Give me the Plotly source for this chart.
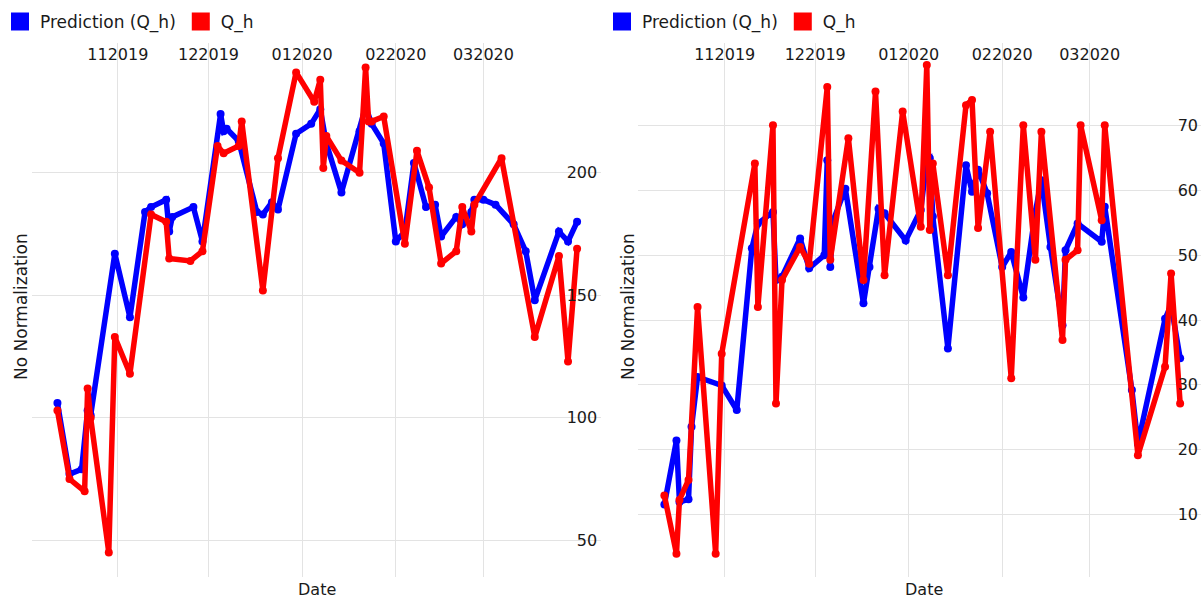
import plotly.graph_objects as go

# ---- Left panel: flow series ----
left_pred_dates = [
    "2019-10-12", "2019-10-16", "2019-10-20", "2019-10-22", "2019-10-23", "2019-10-31",
    "2019-11-05", "2019-11-10", "2019-11-12", "2019-11-17", "2019-11-18", "2019-11-19",
    "2019-11-26", "2019-11-29", "2019-12-05", "2019-12-06", "2019-12-07", "2019-12-11",
    "2019-12-17", "2019-12-19", "2019-12-22", "2019-12-24", "2019-12-30", "2020-01-04",
    "2020-01-07", "2020-01-09", "2020-01-14", "2020-01-20", "2020-01-22", "2020-01-24",
    "2020-01-28", "2020-02-01", "2020-02-04", "2020-02-07", "2020-02-11", "2020-02-14",
    "2020-02-16", "2020-02-21", "2020-02-23", "2020-02-26", "2020-02-27", "2020-03-01",
    "2020-03-05", "2020-03-11", "2020-03-15", "2020-03-18", "2020-03-26", "2020-03-29",
    "2020-04-01",
]
left_pred_values = [
    106, 77, 79, 103, 101, 167,
    141, 184, 186, 189, 176, 182,
    186, 172, 224, 217, 218, 213,
    184, 183, 188, 185, 216, 220,
    226, 212, 192, 217, 227, 220,
    212, 172, 176, 204, 186, 187,
    174, 182, 179, 184, 189, 189,
    187, 179, 168, 148, 176, 172,
    180,
]

left_obs_dates = [
    "2019-10-12", "2019-10-16", "2019-10-21", "2019-10-22", "2019-10-23", "2019-10-29",
    "2019-10-31", "2019-11-05", "2019-11-12", "2019-11-17", "2019-11-18", "2019-11-25",
    "2019-11-29", "2019-12-04", "2019-12-06", "2019-12-11", "2019-12-12", "2019-12-19",
    "2019-12-24", "2019-12-30", "2020-01-05", "2020-01-07", "2020-01-08", "2020-01-09",
    "2020-01-14", "2020-01-20", "2020-01-22", "2020-01-23", "2020-01-24", "2020-01-28",
    "2020-02-04", "2020-02-08", "2020-02-12", "2020-02-16", "2020-02-21", "2020-02-23",
    "2020-02-26", "2020-02-27", "2020-03-07", "2020-03-18", "2020-03-26", "2020-03-29",
    "2020-04-01",
]
left_obs_values = [
    103, 75, 70, 112, 100, 45,
    133, 118, 183, 180, 165, 164,
    168, 211, 208, 211, 221, 152,
    206, 241, 229, 238, 202, 215,
    205, 200, 243, 221, 221, 223,
    171, 209, 194, 163, 168, 186,
    176, 187, 206, 133, 166, 123,
    169,
]

# ---- Right panel: flow series ----
right_pred_dates = [
    "2019-10-12", "2019-10-16", "2019-10-17", "2019-10-20", "2019-10-21", "2019-10-23",
    "2019-10-31", "2019-11-05", "2019-11-10", "2019-11-12", "2019-11-17", "2019-11-18",
    "2019-11-20", "2019-11-26", "2019-11-29", "2019-12-04", "2019-12-05", "2019-12-06",
    "2019-12-07", "2019-12-11", "2019-12-17", "2019-12-19", "2019-12-22", "2019-12-24",
    "2019-12-31", "2020-01-05", "2020-01-07", "2020-01-08", "2020-01-09", "2020-01-14",
    "2020-01-20", "2020-01-22", "2020-01-24", "2020-01-27", "2020-02-01", "2020-02-04",
    "2020-02-08", "2020-02-12", "2020-02-14", "2020-02-17", "2020-02-21", "2020-02-22",
    "2020-02-26", "2020-03-05", "2020-03-06", "2020-03-15", "2020-03-17", "2020-03-26",
    "2020-03-28", "2020-03-31",
]
right_pred_values = [
    11.5, 21.4, 11.9, 12.3, 23.5, 31.2,
    29.9, 26.1, 51.1, 54.9, 56.7, 46.2,
    46.7, 52.6, 48.0, 50.0, 64.7, 48.2,
    55.4, 60.3, 42.6, 48.2, 57.2, 56.5,
    52.3, 57.0, 64.7, 65.0, 56.0, 35.6,
    63.9, 59.8, 63.2, 59.6, 48.2, 50.5,
    43.5, 56.7, 61.6, 51.3, 39.2, 50.8,
    54.9, 52.1, 57.5, 29.2, 20.9, 40.2,
    42.3, 34.1,
]

right_obs_dates = [
    "2019-10-12", "2019-10-16", "2019-10-17", "2019-10-20", "2019-10-23", "2019-10-29",
    "2019-10-31", "2019-11-11", "2019-11-12", "2019-11-17", "2019-11-18", "2019-11-20",
    "2019-11-26", "2019-11-29", "2019-12-05", "2019-12-06", "2019-12-12", "2019-12-17",
    "2019-12-21", "2019-12-24", "2019-12-30", "2020-01-05", "2020-01-07", "2020-01-08",
    "2020-01-09", "2020-01-14", "2020-01-20", "2020-01-22", "2020-01-24", "2020-01-28",
    "2020-02-04", "2020-02-08", "2020-02-12", "2020-02-14", "2020-02-21", "2020-02-22",
    "2020-02-26", "2020-02-27", "2020-03-05", "2020-03-06", "2020-03-17", "2020-03-26",
    "2020-03-28", "2020-03-31",
]
right_obs_values = [
    12.9, 3.9, 12.2, 15.3, 42.0, 3.9,
    34.8, 64.2, 42.0, 70.1, 27.1, 46.2,
    51.3, 48.7, 76.0, 49.3, 68.1, 46.2,
    75.3, 46.9, 72.2, 54.4, 79.4, 53.9,
    64.2, 46.9, 73.2, 74.0, 54.2, 69.1,
    31.0, 70.1, 49.3, 69.1, 36.9, 49.3,
    50.8, 70.1, 55.4, 70.1, 19.1, 32.8,
    47.2, 27.1,
]

PRED_NAME = "Prediction (Q_h)"
OBS_NAME = "Q_h"
PRED_COLOR = "#0000ff"
OBS_COLOR = "#ff0000"
FONT = "DejaVu Sans"
TEXT_COLOR = "#1a1a1a"
GRID = "#e3e3e3"
CLEAR = "rgba(0,0,0,0)"

W, H = 1201, 599
M_T, M_B = 43, 22

fig = go.Figure()

panels = [
    ("x", "y", left_pred_dates, left_pred_values, left_obs_dates, left_obs_values, "legend"),
    ("x2", "y2", right_pred_dates, right_pred_values, right_obs_dates, right_obs_values, "legend2"),
]
for xa, ya, pd_, pv, od, ov, lg in panels:
    fig.add_trace(go.Scatter(
        x=pd_, y=pv, xaxis=xa, yaxis=ya, mode="lines+markers",
        line=dict(color=PRED_COLOR, width=5.5), marker=dict(color=PRED_COLOR, size=8),
        showlegend=False, name=PRED_NAME,
    ))
    fig.add_trace(go.Scatter(
        x=od, y=ov, xaxis=xa, yaxis=ya, mode="lines+markers",
        line=dict(color=OBS_COLOR, width=5.5), marker=dict(color=OBS_COLOR, size=8),
        showlegend=False, name=OBS_NAME,
    ))
    # square swatches for the legend
    for nm, col in [(PRED_NAME, PRED_COLOR), (OBS_NAME, OBS_COLOR)]:
        fig.add_trace(go.Scatter(
            x=[None], y=[None], xaxis=xa, yaxis=ya, mode="markers", name=nm,
            marker=dict(symbol="square", size=16, color=col, line=dict(color=col, width=2)),
            legend=lg, showlegend=True,
        ))

xcommon = dict(
    type="date", side="top", ticklabelposition="inside", tickformat="%m%Y",
    dtick="M1", tick0="2019-11-01", showgrid=True, gridcolor=GRID, gridwidth=1,
    zeroline=False, showline=False, ticks="inside", ticklen=6, tickcolor=CLEAR,
    tickfont=dict(family=FONT, size=16, color=TEXT_COLOR),
)
ycommon = dict(
    side="right", ticklabelposition="inside", showgrid=True, gridcolor=GRID,
    gridwidth=1, zeroline=False, showline=False, tickcolor=CLEAR,
    tickfont=dict(family=FONT, size=16, color=TEXT_COLOR),
)

legend_common = dict(
    orientation="h", xref="container", yref="container", xanchor="left", yanchor="top",
    font=dict(family=FONT, size=17, color=TEXT_COLOR), bgcolor="rgba(0,0,0,0)",
    itemclick=False, itemdoubleclick=False,
)

fig.update_layout(
    width=W, height=H,
    margin=dict(l=0, r=0, t=M_T, b=M_B),
    paper_bgcolor="white", plot_bgcolor="white",
    font=dict(family=FONT, size=16, color=TEXT_COLOR),
    xaxis=dict(domain=[32 / W, 601 / W], anchor="y",
               range=["2019-10-03 14:00", "2020-04-08 22:00"], **xcommon),
    yaxis=dict(domain=[0, 1], anchor="x", range=[35, 253], dtick=50,
               ticks="inside", ticklen=4, **ycommon),
    xaxis2=dict(domain=[638 / W, 1.0], anchor="y2",
                range=["2019-10-03 06:00", "2020-04-06 22:00"], **xcommon),
    yaxis2=dict(domain=[0, 1], anchor="x2", range=[0.3, 82.8], dtick=10,
                ticks="", **ycommon),
    legend=dict(x=-5 / W, y=1 - 4 / H, **legend_common),
    legend2=dict(x=602 / W, y=1 - 4 / H, **legend_common),
)

ann_font = dict(family=FONT, size=16, color=TEXT_COLOR)
plot_h = H - M_T - M_B
date_y = (H - M_B - 589) / plot_h
title_y = (H - M_B - 307) / plot_h
for cx in (317, 924):
    fig.add_annotation(text="Date", x=cx / W, y=date_y, xref="paper", yref="paper",
                       showarrow=False, xanchor="center", yanchor="middle", font=ann_font)
for cx in (21, 628):
    fig.add_annotation(text="No Normalization", x=cx / W, y=title_y, xref="paper",
                       yref="paper", showarrow=False, textangle=-90, xanchor="center",
                       yanchor="middle", font=dict(family=FONT, size=17, color=TEXT_COLOR))

fig.write_html("out.html")
